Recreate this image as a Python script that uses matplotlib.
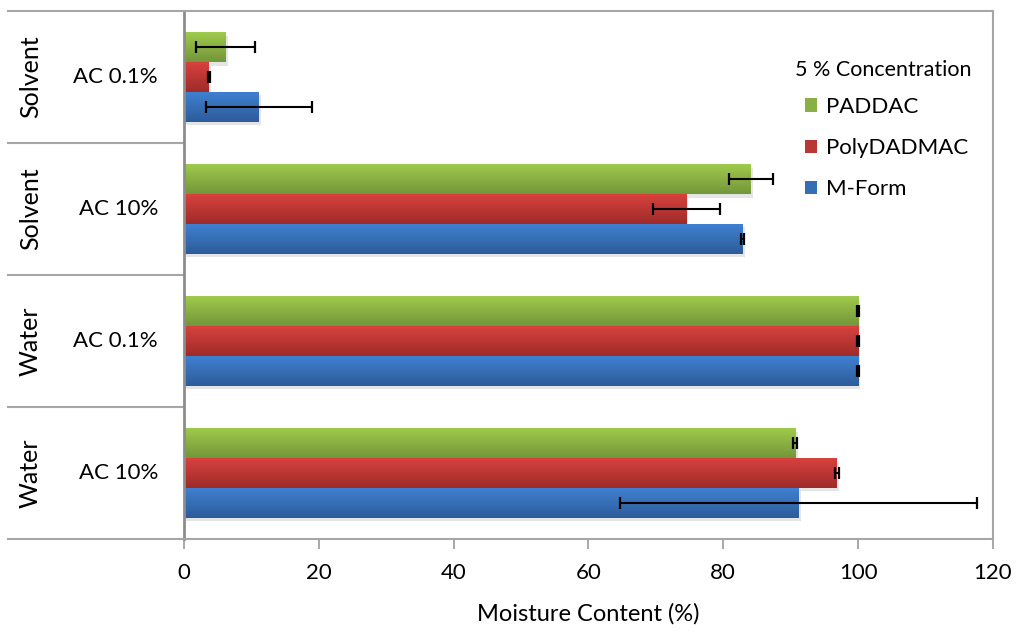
import numpy as np
import matplotlib
matplotlib.use("Agg")
import matplotlib.pyplot as plt
import matplotlib.patheffects as pe
from matplotlib.colors import LinearSegmentedColormap
from matplotlib.patches import Rectangle

plt.rcParams['font.family'] = ['Lato', 'DejaVu Sans']

# categories bottom -> top
solvents = ['Water', 'Water', 'Solvent', 'Solvent']
ac_levels = ['AC 10%', 'AC 0.1%', 'AC 10%', 'AC 0.1%']

series = ['M-Form', 'PolyDADMAC', 'PADDAC']
mform = [91.2, 100.0, 82.9, 11.1]
mform_err = [26.5, 0.2, 0.2, 7.9]
polydadmac = [96.8, 100.0, 74.5, 3.7]
polydadmac_err = [0.3, 0.2, 5.0, 0.2]
paddac = [90.7, 100.0, 84.1, 6.2]
paddac_err = [0.3, 0.2, 3.3, 4.4]

# (top colour, bottom colour) for the gradient fill
colours = [('#3F80D1', '#2D5C9A'), ('#D8423E', '#9E2B29'), ('#9FCA4B', '#74963A')]

fig = plt.figure(figsize=(10.18, 6.31), dpi=100)
ax = fig.add_axes([0.1807, 0.1458, 0.7947, 0.8368])

y = np.arange(len(ac_levels))
h = 0.226
vals = [mform, polydadmac, paddac]
errs = [mform_err, polydadmac_err, paddac_err]
offsets = [-h, 0, h]

proxies = []
for name, v, e, off, (ctop, cbot) in zip(series, vals, errs, offsets, colours):
    cmap = LinearSegmentedColormap.from_list(name, [cbot, ctop])
    mid = cmap(0.5)
    bars = ax.barh(y + off, v, height=h, color=mid, zorder=1, linewidth=0)
    for b in bars:
        b.set_path_effects([pe.SimplePatchShadow(offset=(1.5, -2.5), alpha=0.1,
                                                 shadow_rgbFace='black'),
                            pe.Normal()])
        x0, y0, w, hh = b.get_x(), b.get_y(), b.get_width(), b.get_height()
        grad = np.linspace(0, 1, 64).reshape(-1, 1)
        ax.imshow(grad, cmap=cmap, origin='lower', aspect='auto',
                  extent=[x0, x0 + w, y0, y0 + hh], zorder=2,
                  interpolation='bilinear')
    ax.errorbar(v, y + off, xerr=e, fmt='none', ecolor='black',
                elinewidth=1.5, capsize=4, capthick=1.6, zorder=3)
    proxies.append(Rectangle((0, 0), 1, 1, facecolor=mid, linewidth=0))

ax.set_xlim(0, 120)
ax.set_ylim(-0.5, len(ac_levels) - 0.5)
ax.set_xticks(np.arange(0, 121, 20))
ax.set_yticks([])
ax.tick_params(axis='x', length=7, width=1.2, color='#9a9a9a',
               labelsize=16, pad=10)
ax.set_xlabel('Moisture Content (%)', fontsize=17, labelpad=15)

for s in ax.spines.values():
    s.set_color('#a6a6a6')
    s.set_linewidth(1.5)
ax.spines['left'].set_color('#8c8c8c')
ax.spines['left'].set_linewidth(2)

# two-level category axis
trans = ax.get_yaxis_transform()
for b in np.arange(-0.5, len(ac_levels), 1.0):
    ax.plot([-0.2176, 0], [b, b], transform=trans, color='#a6a6a6',
            lw=1.5, clip_on=False)
for yi, (sv, ac) in enumerate(zip(solvents, ac_levels)):
    ax.text(-0.032, yi, ac, transform=trans, ha='right', va='center',
            fontsize=16)
    ax.text(-0.19, yi, sv, transform=trans, ha='center', va='center',
            rotation=90, fontsize=18)

ax.text(0.755, 0.888, '5 % Concentration', transform=ax.transAxes,
        ha='left', va='center', fontsize=15.5)
ax.legend(proxies[::-1], series[::-1], loc='upper left',
          bbox_to_anchor=(0.7676, 0.837), borderaxespad=0, borderpad=0,
          frameon=False, fontsize=16, labelspacing=0.95,
          handlelength=0.55, handleheight=0.55, handletextpad=0.4)

fig.savefig('out.png', dpi=100)
